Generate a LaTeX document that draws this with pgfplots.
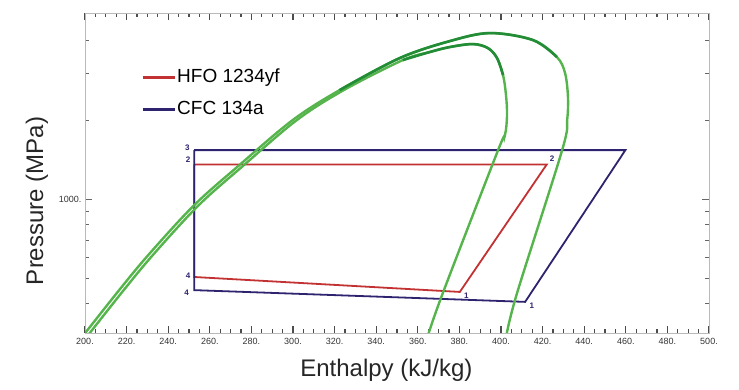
\documentclass[border=0pt]{standalone}
\usepackage{fontspec}
\setmainfont{Liberation Sans}
\usepackage{pgfplots}
\pgfplotsset{compat=1.18}
\definecolor{hfo}{RGB}{195,50,50}
\definecolor{cfc}{RGB}{45,35,110}
\definecolor{dome}{RGB}{85,180,75}
\definecolor{domedark}{RGB}{35,140,55}
\definecolor{framec}{RGB}{185,185,185}
\pgfplotsset{
  frameaxis/.style={
    at={(85pt,57pt)}, anchor=south west,
    width=624pt, height=320pt, scale only axis,
    xmin=200, xmax=500,
    axis line style={framec, line width=0.8pt},
    major tick length=7pt, minor tick length=4pt,
    tick align=inside,
    ticklabel style={font=\fontsize{9}{10}\selectfont, text=black!80},
  }
}
\begin{document}
\begin{tikzpicture}
\path[use as bounding box] (0pt,0pt) rectangle (739pt,390pt);
% x ticks on a plain linear axis
\begin{axis}[
  frameaxis,
  ymin=0, ymax=1,
  ytick=\empty,
  xtick={200,220,240,260,280,300,320,340,360,380,400,420,440,460,480,500},
  xticklabels={200.,220.,240.,260.,280.,300.,320.,340.,360.,380.,400.,420.,440.,460.,480.,500.},
  minor xtick={205,210,215,225,230,235,245,250,255,265,270,275,285,290,295,305,310,315,325,330,335,345,350,355,365,370,375,385,390,395,405,410,415,425,430,435,445,450,455,465,470,475,485,490,495},
  xtick pos=both,
  every tick/.style={black!70, line width=1.1pt},
  xticklabel style={yshift=-2pt},
  xlabel={Enthalpy (kJ/kg)},
  label style={font=\fontsize{24}{28}\selectfont, text=black!85},
  xlabel style={at={(axis description cs:0.483,-0.1156)}, anchor=center},
]
\end{axis}
\begin{axis}[
  frameaxis,
  ymode=log, ymin=310, ymax=5100,
  xtick=\empty,
  ytick={1000}, yticklabels={1000.},
  minor ytick={400,500,600,700,800,900,2000,3000,4000},
  ytick pos=both,
  every tick/.style={black!60, line width=0.8pt},
  ylabel={Pressure (MPa)},
  label style={font=\fontsize{24}{28}\selectfont, text=black!85},
  ylabel style={at={(axis description cs:-0.0770,0.4125)}, anchor=center},
  legend style={draw=none, fill=none, at={(axis description cs:0.085,0.8375)}, anchor=north west,
    font=\fontsize{19}{22}\selectfont, row sep=12pt,
    nodes={inner sep=1pt, text height=14pt, text depth=4pt}},
  legend cell align=left,
  legend image code/.code={\draw[#1, line width=3pt] (0pt,0pt) -- (32pt,0pt);},
]
\addplot[hfo, line width=1.8pt, line join=miter] coordinates {(252.5,1355) (422,1355) (380.2,444) (252.5,506) (252.5,1355)};
\addlegendentry{HFO 1234yf}
\addplot[cfc, line width=1.8pt, line join=miter] coordinates {(252.5,1536) (459.8,1536) (411.6,407) (252.5,451) (252.5,1536)};
\addlegendentry{CFC 134a}
% outer dome
\addplot[dome, line width=2.4pt, smooth, tension=0.55, forget plot] coordinates {
(198.7,300) (216.4,451) (230.8,618) (252.5,949) (274.2,1347) (299.8,1997) (322.4,2597)
(351.3,3437) (375.4,3988) (394.7,4278) (415.4,4023) (426.9,3467) (430.8,3014) (432.2,2442)
(431.8,1997) (429.4,1536) (407.7,439) (402.5,300)};
% inner dome
\addplot[dome, line width=2.4pt, smooth, tension=0.55, forget plot] coordinates {
(200.9,300) (218.6,451) (233.0,618) (254.7,949) (276.4,1347) (301.8,1997) (324.4,2597)
(352.8,3377) (365.8,3625) (375.4,3786) (386.5,3886) (393.7,3752) (398.1,3437) (401.0,2960)
(402.4,2486) (402.9,2085) (401.9,1751) (398.6,1536) (372.0,439) (364.7,300)};
% darker upper parts
\addplot[domedark, line width=2.6pt, smooth, tension=0.55, forget plot] coordinates {
(322.4,2597) (351.3,3437) (375.4,3988) (394.7,4278) (415.4,4023) (426.9,3467)};
\addplot[domedark, line width=2.6pt, smooth, tension=0.55, forget plot] coordinates {
(352.8,3377) (365.8,3625) (375.4,3786) (386.5,3886) (393.7,3752) (398.1,3437) (401.0,2960)};
% state point labels
\node[font=\fontsize{8}{9}\selectfont\bfseries, text=cfc] at (axis cs:249.2,1570) {3};
\node[font=\fontsize{8}{9}\selectfont\bfseries, text=cfc] at (axis cs:249.6,1410) {2};
\node[font=\fontsize{8}{9}\selectfont\bfseries, text=cfc] at (axis cs:424.6,1420) {2};
\node[font=\fontsize{8}{9}\selectfont\bfseries, text=cfc] at (axis cs:383.3,428) {1};
\node[font=\fontsize{8}{9}\selectfont\bfseries, text=cfc] at (axis cs:414.8,392) {1};
\node[font=\fontsize{8}{9}\selectfont\bfseries, text=cfc] at (axis cs:249.6,512) {4};
\node[font=\fontsize{8}{9}\selectfont\bfseries, text=cfc] at (axis cs:248.8,440) {4};
\end{axis}
\end{tikzpicture}
\end{document}
